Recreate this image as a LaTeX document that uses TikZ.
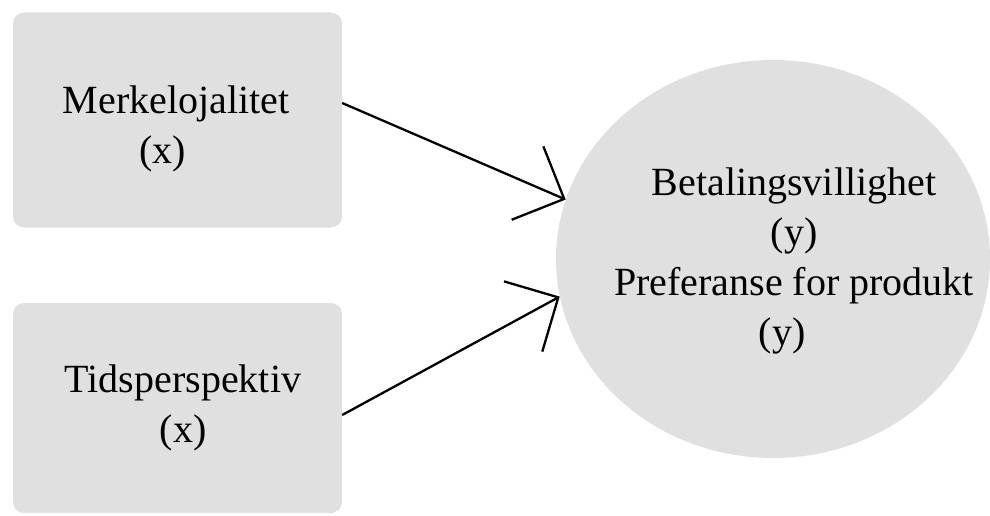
\documentclass[tikz,border=0pt]{standalone}
\usepackage{fontspec}
\setmainfont{Liberation Serif}
\usetikzlibrary{shapes.geometric,arrows.meta}
\definecolor{boxgrey}{RGB}{224,224,224}
\tikzset{
  varbox/.style={draw=none, fill=boxgrey, rounded corners=11pt, inner sep=0pt},
  varell/.style={ellipse, draw=none, fill=boxgrey, inner sep=0pt},
  lbl/.style={align=center, inner sep=0pt, font=\fontsize{40pt}{50pt}\selectfont},
  link/.style={line width=2.3pt, -{Straight Barb[length=40pt,width=80pt]}}
}
\begin{document}
\begin{tikzpicture}[x=1pt,y=-1pt]
\useasboundingbox (0,0) rectangle (990,516);
\node[varbox, minimum width=329pt, minimum height=215pt] (b1) at (177.5,120) {};
\node[varbox, minimum width=329pt, minimum height=210pt] (b2) at (177.5,408) {};
\node[varell, minimum width=434pt, minimum height=398pt] (y) at (773,259) {};
\node[lbl] (t1) at (176,128.5) {Merkelojalitet\\(x)\hspace*{27pt}};
\node[lbl] (t2) at (183,407.5) {Tidsperspektiv\\(x)};
\node[lbl] (t3) at (794,261) {Betalingsvillighet\\(y)\hspace*{24pt}\\Preferanse for produkt\\(y)\hspace*{24pt}};
\draw[link] ([yshift=17pt]b1.east) -- (y.164);
\draw[link] ([yshift=-7pt]b2.east) -- (y.190);
\end{tikzpicture}
\end{document}
